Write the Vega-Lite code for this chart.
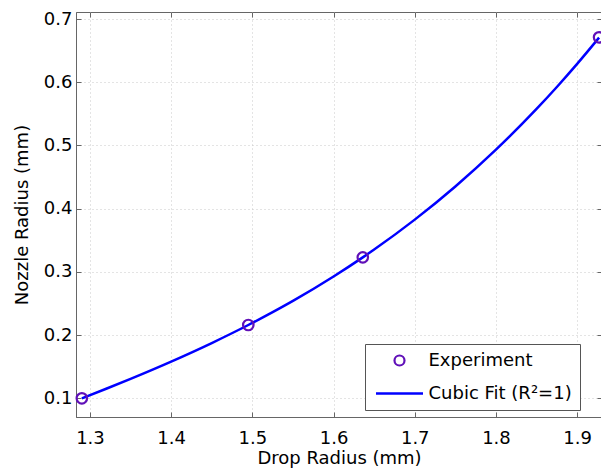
{
  "$schema": "https://vega.github.io/schema/vega-lite/v6.json",
  "width": 526,
  "height": 405,
  "autosize": {"type": "none"},
  "padding": {"left": 76, "top": 12, "right": 0, "bottom": 57},
  "background": "white",
  "datasets": {
    "fit": [
      {"x": 1.29, "y": 0.1, "series": "Cubic Fit (R²=1)"},
      {"x": 1.32, "y": 0.1152, "series": "Cubic Fit (R²=1)"},
      {"x": 1.35, "y": 0.1309, "series": "Cubic Fit (R²=1)"},
      {"x": 1.4, "y": 0.1582, "series": "Cubic Fit (R²=1)"},
      {"x": 1.45, "y": 0.1875, "series": "Cubic Fit (R²=1)"},
      {"x": 1.495, "y": 0.216, "series": "Cubic Fit (R²=1)"},
      {"x": 1.525, "y": 0.2364, "series": "Cubic Fit (R²=1)"},
      {"x": 1.55, "y": 0.2542, "series": "Cubic Fit (R²=1)"},
      {"x": 1.6, "y": 0.2928, "series": "Cubic Fit (R²=1)"},
      {"x": 1.636, "y": 0.323, "series": "Cubic Fit (R²=1)"},
      {"x": 1.65, "y": 0.3354, "series": "Cubic Fit (R²=1)"},
      {"x": 1.7, "y": 0.3827, "series": "Cubic Fit (R²=1)"},
      {"x": 1.75, "y": 0.4352, "series": "Cubic Fit (R²=1)"},
      {"x": 1.8, "y": 0.4934, "series": "Cubic Fit (R²=1)"},
      {"x": 1.85, "y": 0.5578, "series": "Cubic Fit (R²=1)"},
      {"x": 1.875, "y": 0.5925, "series": "Cubic Fit (R²=1)"},
      {"x": 1.9, "y": 0.629, "series": "Cubic Fit (R²=1)"},
      {"x": 1.927, "y": 0.6705, "series": "Cubic Fit (R²=1)"}
    ],
    "exp": [
      {"x": 1.29, "y": 0.1, "series": "Experiment"},
      {"x": 1.495, "y": 0.216, "series": "Experiment"},
      {"x": 1.636, "y": 0.323, "series": "Experiment"},
      {"x": 1.927, "y": 0.671, "series": "Experiment"}
    ]
  },
  "layer": [
    {
      "data": {"name": "fit"},
      "mark": {"type": "line", "strokeWidth": 2.5, "clip": true, "interpolate": "monotone"},
      "encoding": {
        "x": {
          "field": "x", "type": "quantitative",
          "scale": {"domain": [1.2828, 1.9306], "nice": false, "zero": false},
          "axis": {"values": [1.3, 1.4, 1.5, 1.6, 1.7, 1.8, 1.9], "format": ".1f", "title": "Drop Radius (mm)", "titlePadding": 2, "labelPadding": 17, "tickSize": -5}
        },
        "y": {
          "field": "y", "type": "quantitative",
          "scale": {"domain": [0.0705, 0.7111], "nice": false, "zero": false},
          "axis": {"values": [0.1, 0.2, 0.3, 0.4, 0.5, 0.6, 0.7], "format": ".1f", "title": "Nozzle Radius (mm)", "titlePadding": 12, "labelPadding": 9, "tickSize": -5}
        },
        "color": {
          "field": "series", "type": "nominal",
          "scale": {"domain": ["Experiment", "Cubic Fit (R²=1)"], "range": ["#6010b8", "#0000ff"]},
          "legend": {
            "orient": "none", "legendX": 289, "legendY": 332,
            "title": null,
            "strokeColor": "#555", "fillColor": "white", "padding": 7.5, "rowPadding": 14,
            "labelFont": "DejaVu Sans", "labelFontSize": 18, "labelColor": "black",
            "symbolSize": 100, "symbolStrokeWidth": 2, "symbolOffset": 18, "labelOffset": 20,
            "symbolType": "circle",
            "encode": {
              "symbols": {
                "update": {
                  "shape": {"signal": "datum.value === 'Experiment' ? 'circle' : 'M-4.7,0L4.7,0'"},
                  "stroke": {"signal": "scale('color', datum.value)"},
                  "fill": {"value": "transparent"},
                  "strokeWidth": {"signal": "datum.value === 'Experiment' ? 2.2 : 2.5"},
                  "size": {"value": 100},
                  "opacity": {"value": 1}
                }
              }
            }
          }
        }
      }
    },
    {
      "data": {"name": "exp"},
      "mark": {"type": "point", "filled": false, "size": 110, "strokeWidth": 2.2, "opacity": 1},
      "encoding": {
        "x": {"field": "x", "type": "quantitative", "axis": null},
        "y": {"field": "y", "type": "quantitative", "axis": null},
        "color": {"field": "series", "type": "nominal"}
      }
    },
    {
      "data": {"name": "exp"},
      "mark": {"type": "point", "opacity": 0},
      "encoding": {
        "x": {"field": "x", "type": "quantitative", "axis": {"orient": "top", "values": [1.3, 1.4, 1.5, 1.6, 1.7, 1.8, 1.9], "labels": false, "grid": false, "domain": false, "title": null, "tickSize": -5}},
        "y": {"field": "y", "type": "quantitative", "axis": {"orient": "right", "values": [0.1, 0.2, 0.3, 0.4, 0.5, 0.6, 0.7], "labels": false, "grid": false, "domain": false, "title": null, "tickSize": -5}}
      }
    }
  ],
  "resolve": {"axis": {"x": "independent", "y": "independent"}},
  "config": {
    "view": {"stroke": "#666", "strokeWidth": 1},
    "font": "DejaVu Sans",
    "axis": {
      "labelFont": "DejaVu Sans", "labelFontSize": 18, "labelColor": "black",
      "titleFont": "DejaVu Sans", "titleFontSize": 18, "titleFontWeight": "normal", "titleColor": "black",
      "domainColor": "#666", "tickColor": "#666",
      "grid": true, "gridColor": "#c8c8c8", "gridDash": [1, 3], "gridWidth": 1
    }
  }
}
